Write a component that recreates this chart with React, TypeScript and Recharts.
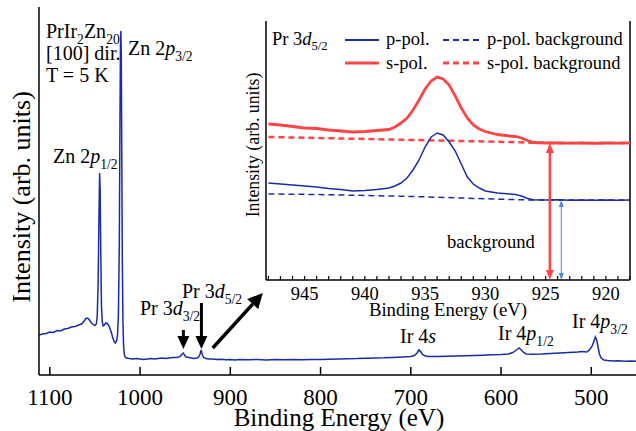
import { LineChart, Line, XAxis, YAxis, ReferenceLine } from "recharts";

const FONT = '"Liberation Serif", "Times New Roman", serif';
const BLUE = "#1a2ca3";
const RED = "#ff4545";
const LIGHT_BLUE = "#4f86d9";

// survey spectrum (main panel)
const surveyEnergy = [
  1112, 1108, 1104, 1100, 1096, 1092, 1088, 1084, 1080, 1076, 1072, 1068, 1065, 1062, 1060, 1058, 1056, 1054,
  1052, 1050, 1048.5, 1047.5, 1046.5, 1045.5, 1044.8, 1044.2, 1043.5, 1042.8, 1042, 1041, 1039.5, 1038, 1036.5,
  1035, 1033.5, 1032, 1030.5, 1029, 1027.5, 1026, 1025, 1024, 1023, 1022.3, 1021.7, 1021.3, 1020.8, 1020.3,
  1019.7, 1019, 1018.3, 1017.5, 1016.5, 1015, 1012, 1008, 1004, 1000, 996, 992, 988, 984, 980, 976, 972, 968,
  964, 960, 957, 955, 953.5, 952, 950.5, 949, 946, 943, 940, 937, 935, 933.5, 932.3, 931, 929.5, 927, 924, 920,
  915, 910, 905, 900, 895, 890, 880, 870, 860, 850, 840, 830, 820, 810, 800, 790, 780, 770, 760, 750, 740, 730,
  720, 710, 700, 696, 693, 691, 689, 687, 684, 680, 670, 660, 650, 640, 630, 620, 610, 600, 592, 587, 583, 580,
  578, 575, 572, 565, 555, 545, 535, 525, 515, 510, 505, 502, 499, 497, 495.5, 494, 492.5, 491, 489, 486, 482,
  476, 470, 462, 455, 446,
];
const surveyIntensity = [
  40, 41, 41.5, 43, 42.5, 44.5, 44, 46, 46.5, 48, 48.5, 50, 51, 54, 56.5, 57, 55, 52,
  50.5, 49.5, 51, 58, 90, 160, 202, 185, 120, 70, 54, 49, 50, 52, 51.5,
  50, 47, 43, 38, 34, 32, 34, 40, 60, 130, 250, 330, 344, 320, 230,
  120, 55, 30, 21, 18, 17, 16.5, 16, 16.5, 16, 15.5, 16, 16.5, 16, 16.5, 17, 16.5, 17,
  17.5, 17.5, 18, 19, 21, 22, 19.5, 18, 17.5, 17, 16.5, 17, 18, 21, 25, 20, 17.5, 16.5, 16, 16,
  15.5, 15.8, 15.3, 15.5, 15, 15.5, 15.2, 15.6, 15, 15.4, 15.2, 15.6, 15.3, 15.5, 15.4, 15.8, 16, 16.2, 16.4, 16.8, 17, 17.2,
  17.6, 18, 18.5, 19.5, 22, 25, 23.5, 20.5, 19, 18.5, 18.6, 18.8, 19, 19.3, 19.5, 19.8, 20.2, 20.5, 21, 22.5, 25, 27,
  25.5, 22.5, 21, 20.8, 21, 21.5, 22, 22.5, 23, 23.5, 23, 25, 29, 34, 38, 35, 28, 21, 17, 15, 14.5,
  14, 14.2, 13.8, 14, 13.5,
];
const surveyTicks = [1100, 1000, 900, 800, 700, 600, 500];

// Pr 3d5/2 detail (inset)
const detailEnergy = [
  948, 947, 946, 945, 944, 943, 942, 941, 940, 939, 938, 937.5, 937, 936.5, 936, 935.5, 935, 934.5, 934, 933.5,
  933, 932.5, 932, 931.5, 931, 930.5, 930, 929, 928, 927.5, 927, 926.5, 926, 925, 924, 923, 922, 921, 920, 919, 918,
];
const sPol = [
  156, 155, 153.5, 152, 151.5, 150, 149, 148, 148.5, 149.5, 150.5, 153, 157, 162, 170, 180, 191, 199, 203, 201,
  195, 184, 172, 162, 155, 151, 148.5, 145.5, 144, 143.5, 142, 139.5, 137.5, 137, 137.2, 136.8, 137, 136.7, 137, 136.8, 137,
];
const pPol = [
  97, 96, 95, 94, 93, 91.5, 90.5, 89, 89.5, 90.5, 92, 94, 97, 102, 110, 120, 133, 143, 147, 145,
  138, 129, 116, 103, 96, 92, 89, 87, 86, 85.5, 84, 81.5, 80.3, 80, 80.2, 79.8, 80, 79.7, 80, 79.8, 80,
];
const backgroundEnergy = [948, 944, 940, 936, 932, 928, 926, 922, 918];
const sPolBackground = [143, 142, 141, 140, 139, 138, 137.2, 137, 137];
const pPolBackground = [86, 85.5, 84.5, 83.5, 82, 80.5, 80, 80, 80];
const detailTicks = Array.from({ length: 31 }, (_, i) => 948 - i);

const surveyData = surveyEnergy.map((e, i) => ({ e, v: surveyIntensity[i] }));
const detailData = detailEnergy.map((e, i) => ({ e, s: sPol[i], p: pPol[i] }));
const sBgData = backgroundEnergy.map((e, i) => ({ e, v: sPolBackground[i] }));
const pBgData = backgroundEnergy.map((e, i) => ({ e, v: pPolBackground[i] }));

type Part = { t: string; sub?: boolean; it?: boolean };

function RichText({ x, y, size, parts }: { x: number; y: number; size: number; parts: Part[] }) {
  let prevSub = false;
  const shift = size * 0.28;
  return (
    <text x={x} y={y} fontSize={size} fontFamily={FONT} fill="#000">
      {parts.map((p, i) => {
        let dy = 0;
        if (p.sub && !prevSub) dy = shift;
        if (!p.sub && prevSub) dy = -shift;
        prevSub = !!p.sub;
        return (
          <tspan key={i} dy={dy} fontSize={p.sub ? size * 0.68 : size} fontStyle={p.it ? "italic" : "normal"}>
            {p.t}
          </tspan>
        );
      })}
    </text>
  );
}

function arrow(color: string, width: number, head: number, half: number, both = false) {
  return (props: any) => {
    const { x1, y1, x2, y2 } = props;
    const len = Math.hypot(x2 - x1, y2 - y1) || 1;
    const ux = (x2 - x1) / len;
    const uy = (y2 - y1) / len;
    const nx = -uy;
    const ny = ux;
    const tri = (tx: number, ty: number, dx: number, dy: number) => {
      const bx = tx - dx * head;
      const by = ty - dy * head;
      return `${tx},${ty} ${bx + nx * half},${by + ny * half} ${bx - nx * half},${by - ny * half}`;
    };
    const sx = both ? x1 + ux * head : x1;
    const sy = both ? y1 + uy * head : y1;
    return (
      <g>
        <line x1={sx} y1={sy} x2={x2 - ux * head} y2={y2 - uy * head} stroke={color} strokeWidth={width} />
        <polygon points={tri(x2, y2, ux, uy)} fill={color} />
        {both && <polygon points={tri(x1, y1, -ux, -uy)} fill={color} />}
      </g>
    );
  };
}

function SurveyTickBottom(props: any) {
  const { x, y, payload } = props;
  return (
    <g>
      <line x1={x} y1={y} x2={x} y2={y - 8} stroke="#000" strokeWidth={1.5} />
      <text x={x} y={y + 30} textAnchor="middle" fontSize={23} fontFamily={FONT} fill="#000">
        {payload.value}
      </text>
    </g>
  );
}

function SurveyTickTop(props: any) {
  const { x, y } = props;
  return <line x1={x} y1={y} x2={x} y2={y + 8} stroke="#000" strokeWidth={1.5} />;
}

function DetailTickBottom(props: any) {
  const { x, y, payload } = props;
  return (
    <g>
      <line x1={x} y1={y} x2={x} y2={y - 4} stroke="#000" strokeWidth={1.2} />
      {payload.value % 5 === 0 && (
        <text x={x} y={y + 20} textAnchor="middle" fontSize={18.5} fontFamily={FONT} fill="#000">
          {payload.value}
        </text>
      )}
    </g>
  );
}

function DetailTickTop(props: any) {
  const { x, y } = props;
  return <line x1={x} y1={y} x2={x} y2={y + 4} stroke="#000" strokeWidth={1.2} />;
}

export default function App() {
  return (
    <div style={{ position: "fixed", left: 0, top: 0, width: 636, height: 431, overflow: "hidden", background: "#fff" }}>
      <div style={{ position: "absolute", left: 0, top: 0 }}>
        <LineChart width={660} height={431} data={surveyData} margin={{ top: 7, right: 20, bottom: 0, left: 0 }}>
          <XAxis
            dataKey="e"
            type="number"
            domain={[446, 1112]}
            reversed
            allowDataOverflow
            ticks={surveyTicks}
            interval={0}
            height={56}
            tickSize={0}
            tickMargin={0}
            tick={<SurveyTickBottom />}
            stroke="#000"
            strokeWidth={1.5}
          />
          <XAxis
            xAxisId="top"
            orientation="top"
            dataKey="e"
            type="number"
            domain={[446, 1112]}
            reversed
            allowDataOverflow
            ticks={surveyTicks}
            interval={0}
            height={0}
            tickSize={0}
            tickMargin={0}
            tick={<SurveyTickTop />}
            stroke="#000"
            strokeWidth={1.5}
          />
          <YAxis type="number" domain={[0, 368]} width={39} tick={false} tickLine={false} stroke="#000" strokeWidth={1.5} />
          <Line dataKey="v" stroke={BLUE} strokeWidth={1.5} dot={false} isAnimationActive={false} />
          <ReferenceLine segment={[{ x: 952, y: 45 }, { x: 952, y: 26 }]} shape={arrow("#000", 3, 13, 6)} />
          <ReferenceLine segment={[{ x: 932, y: 72 }, { x: 932, y: 26 }]} shape={arrow("#000", 3, 13, 6)} />
          <ReferenceLine segment={[{ x: 919.5, y: 27 }, { x: 864, y: 82 }]} shape={arrow("#000", 3.5, 15, 7.5)} />
        </LineChart>
      </div>

      <div style={{ position: "absolute", left: 240, top: 0 }}>
        <LineChart width={400} height={330} data={detailData} margin={{ top: 21, right: 10, bottom: 0, left: 0 }}>
          <XAxis
            dataKey="e"
            type="number"
            domain={[918, 948.2]}
            reversed
            allowDataOverflow
            ticks={detailTicks}
            interval={0}
            height={50}
            tickSize={0}
            tickMargin={0}
            tick={<DetailTickBottom />}
            stroke="#000"
            strokeWidth={1.5}
          />
          <XAxis
            xAxisId="top"
            orientation="top"
            dataKey="e"
            type="number"
            domain={[918, 948.2]}
            reversed
            allowDataOverflow
            ticks={detailTicks}
            interval={0}
            height={0}
            tickSize={0}
            tickMargin={0}
            tick={<DetailTickTop />}
            stroke="#000"
            strokeWidth={1.5}
          />
          <YAxis type="number" domain={[0, 259]} width={26} tick={false} tickLine={false} stroke="#000" strokeWidth={1.5} />
          <ReferenceLine x={918} stroke="#000" strokeWidth={1.5} />
          <Line data={sBgData} dataKey="v" stroke={RED} strokeWidth={2.5} strokeDasharray="6 4" dot={false} isAnimationActive={false} />
          <Line data={pBgData} dataKey="v" stroke={BLUE} strokeWidth={1.5} strokeDasharray="6 4" dot={false} isAnimationActive={false} />
          <Line dataKey="s" stroke={RED} strokeWidth={2.8} dot={false} isAnimationActive={false} />
          <Line dataKey="p" stroke={BLUE} strokeWidth={1.5} dot={false} isAnimationActive={false} />
          <ReferenceLine segment={[{ x: 924.65, y: 0 }, { x: 924.65, y: 137 }]} shape={arrow(RED, 2.5, 10, 4, true)} />
          <ReferenceLine segment={[{ x: 923.7, y: 0 }, { x: 923.7, y: 80 }]} shape={arrow(LIGHT_BLUE, 1, 7, 2.5, true)} />
        </LineChart>
      </div>

      <svg width={636} height={431} style={{ position: "absolute", left: 0, top: 0, pointerEvents: "none" }}>
        <text transform="translate(30,197) rotate(-90)" textAnchor="middle" fontSize={26} fontFamily={FONT}>
          Intensity (arb. units)
        </text>
        <text x={339} y={426} textAnchor="middle" fontSize={25} fontFamily={FONT}>
          Binding Energy (eV)
        </text>
        <RichText x={46} y={38} size={20} parts={[{ t: "PrIr" }, { t: "2", sub: true }, { t: "Zn" }, { t: "20", sub: true }]} />
        <RichText x={46} y={60} size={20} parts={[{ t: "[100] dir." }]} />
        <RichText x={46} y={82} size={20} parts={[{ t: "T = 5 K" }]} />
        <RichText x={128} y={55} size={20} parts={[{ t: "Zn 2" }, { t: "p", it: true }, { t: "3/2", sub: true }]} />
        <RichText x={53} y={163} size={20} parts={[{ t: "Zn 2" }, { t: "p", it: true }, { t: "1/2", sub: true }]} />
        <RichText x={140} y={315} size={20} parts={[{ t: "Pr 3" }, { t: "d", it: true }, { t: "3/2", sub: true }]} />
        <RichText x={182} y={298} size={20} parts={[{ t: "Pr 3" }, { t: "d", it: true }, { t: "5/2", sub: true }]} />
        <RichText x={400} y={343} size={20} parts={[{ t: "Ir 4" }, { t: "s", it: true }]} />
        <RichText x={498} y={340} size={20} parts={[{ t: "Ir 4" }, { t: "p", it: true }, { t: "1/2", sub: true }]} />
        <RichText x={572} y={328} size={20} parts={[{ t: "Ir 4" }, { t: "p", it: true }, { t: "3/2", sub: true }]} />

        <text transform="translate(259,145) rotate(-90)" textAnchor="middle" fontSize={17.8} fontFamily={FONT}>
          Intensity (arb. units)
        </text>
        <text x={448} y={316} textAnchor="middle" fontSize={18.8} fontFamily={FONT}>
          Binding Energy (eV)
        </text>
        <RichText x={447} y={248} size={18.6} parts={[{ t: "background" }]} />

        <RichText x={272} y={45} size={18.5} parts={[{ t: "Pr 3" }, { t: "d", it: true }, { t: "5/2", sub: true }]} />
        <line x1={345} y1={40} x2={379} y2={40} stroke={BLUE} strokeWidth={1.8} />
        <RichText x={386} y={45} size={18.5} parts={[{ t: "p-pol." }]} />
        <line x1={443} y1={40} x2={480} y2={40} stroke={BLUE} strokeWidth={1.8} strokeDasharray="6 4" />
        <RichText x={487} y={45} size={18.5} parts={[{ t: "p-pol. background" }]} />
        <line x1={345} y1={63} x2={379} y2={63} stroke={RED} strokeWidth={3} />
        <RichText x={386} y={69} size={18.5} parts={[{ t: "s-pol." }]} />
        <line x1={443} y1={63} x2={480} y2={63} stroke={RED} strokeWidth={3} strokeDasharray="6 4" />
        <RichText x={487} y={69} size={18.5} parts={[{ t: "s-pol. background" }]} />
      </svg>
    </div>
  );
}
